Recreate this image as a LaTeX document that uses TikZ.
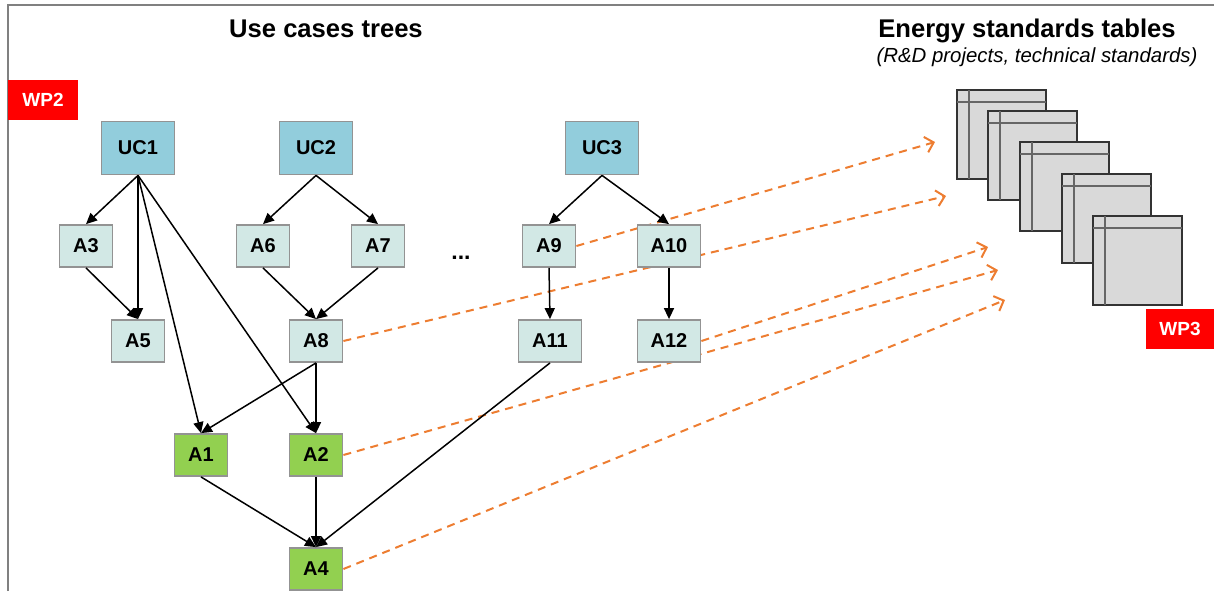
\documentclass[tikz,border=0pt]{standalone}
\usepackage{fontspec}
\setmainfont{Liberation Sans}
\usetikzlibrary{%
  arrows.meta,%
  backgrounds%
}
\definecolor{ucblue}{HTML}{92CDDC}
\definecolor{actcyan}{HTML}{D2E8E5}
\definecolor{goalgreen}{HTML}{92D050}
\definecolor{wpred}{HTML}{FF0000}
\definecolor{linkorange}{HTML}{ED7D31}
\definecolor{sheetgray}{HTML}{D9D9D9}

\begin{document}
\begin{tikzpicture}[x=0.5pt,y=-0.5pt,
  box/.style={draw=gray!85,line width=0.9pt,inner sep=0pt,
    font=\bfseries\fontsize{10}{12}\selectfont},
  uc/.style={box,fill=ucblue,minimum width=36.5pt,minimum height=26.5pt},
  act/.style={box,fill=actcyan,minimum width=26.5pt,minimum height=21pt},
  wide/.style={minimum width=31.5pt},
  goal/.style={act,fill=goalgreen},
  wp/.style={fill=wpred,text=white,inner sep=0pt,minimum height=20pt,
    font=\bfseries\fontsize{9.5}{11}\selectfont},
  edge/.style={line width=0.75pt,-{Triangle[length=5.5pt,width=5pt]}},
  link/.style={linkorange,line width=1pt,dash pattern=on 4pt off 3pt,
    -{Straight Barb[length=4pt,width=8pt]}},
  sheet/.style={draw=black!80,fill=sheetgray,line width=0.7pt},
  sheetline/.style={draw=black!60,line width=0.7pt}
]
  \useasboundingbox (0,0) rectangle (1214,591);
  \draw[gray,line width=1pt] (8,591) -- (8,5) -- (1214,5);

  % titles
  \node[font=\bfseries\fontsize{12.8}{15}\selectfont,anchor=base] (ttrees) at (326,37) {Use cases trees};
  \node[font=\bfseries\fontsize{12.8}{15}\selectfont,anchor=base] (ttables) at (1027,37) {Energy standards tables};
  \node[font=\itshape\fontsize{10.2}{12}\selectfont,anchor=base] (tsub) at (1037,62) {(R\&D projects, technical standards)};

  \node[wp,minimum width=35pt] (wp2) at (43,99.5) {WP2};
  \node[wp,minimum width=34pt] (wp3) at (1180,329) {WP3};

  % use cases
  \node[uc] (uc1) at (138,148) {UC1};
  \node[uc] (uc2) at (316,148) {UC2};
  \node[uc] (uc3) at (602,148) {UC3};

  \node[act] (a3) at (86,246) {A3};
  \node[act] (a6) at (263,246) {A6};
  \node[act] (a7) at (378,246) {A7};
  \node[act] (a9) at (549,246) {A9};
  \node[act,wide] (a10) at (669,246) {A10};
  \node[font=\bfseries\fontsize{11.5}{13}\selectfont] (dots) at (461,258) {...};

  \node[act] (a5) at (138,341) {A5};
  \node[act] (a8) at (316,341) {A8};
  \node[act,wide] (a11) at (550,341) {A11};
  \node[act,wide] (a12) at (669,341) {A12};

  \node[goal] (a1) at (201,455) {A1};
  \node[goal] (a2) at (316,455) {A2};
  \node[goal] (a4) at (316,569) {A4};

  \draw[edge] (uc1.south) -- (a3.north);
  \draw[edge] (uc1.south) -- (a5.north);
  \draw[edge] (uc1.south) -- (a1.north);
  \draw[edge] (uc1.south) -- (a2.north);
  \draw[edge] (a3.south) -- (a5.north);
  \draw[edge] (uc2.south) -- (a6.north);
  \draw[edge] (uc2.south) -- (a7.north);
  \draw[edge] (a6.south) -- (a8.north);
  \draw[edge] (a7.south) -- (a8.north);
  \draw[edge] (a8.south) -- (a1.north);
  \draw[edge] (a8.south) -- (a2.north);
  \draw[edge] (uc3.south) -- (a9.north);
  \draw[edge] (uc3.south) -- (a10.north);
  \draw[edge] (a9.south) -- (a11.north);
  \draw[edge] (a10.south) -- (a12.north);
  \draw[edge] (a1.south) -- (a4.north);
  \draw[edge] (a2.south) -- (a4.north);
  \draw[edge] (a11.south) -- (a4.north);

  % standards tables
  \foreach \x/\y in {957/90,988/111,1020/142,1062/174,1093/216} {
    \draw[sheet] (\x,\y) rectangle ++(89,89);
    \draw[sheetline] (\x,\y+12) -- ++(89,0);
    \draw[sheetline] (\x+12,\y) -- ++(0,89);
  }

  \coordinate (s1) at (935,142);
  \coordinate (s2) at (946,196);
  \coordinate (s3) at (988,247);
  \coordinate (s4) at (998,270);
  \coordinate (s5) at (1005,300);
  \begin{scope}[on background layer]
    \draw[link] (a9.east) -- (s1);
    \draw[link] (a8.east) -- (s2);
    \draw[link] (a12.east) -- (s3);
    \draw[link] (a2.east) -- (s4);
    \draw[link] (a4.east) -- (s5);
  \end{scope}
\end{tikzpicture}
\end{document}
